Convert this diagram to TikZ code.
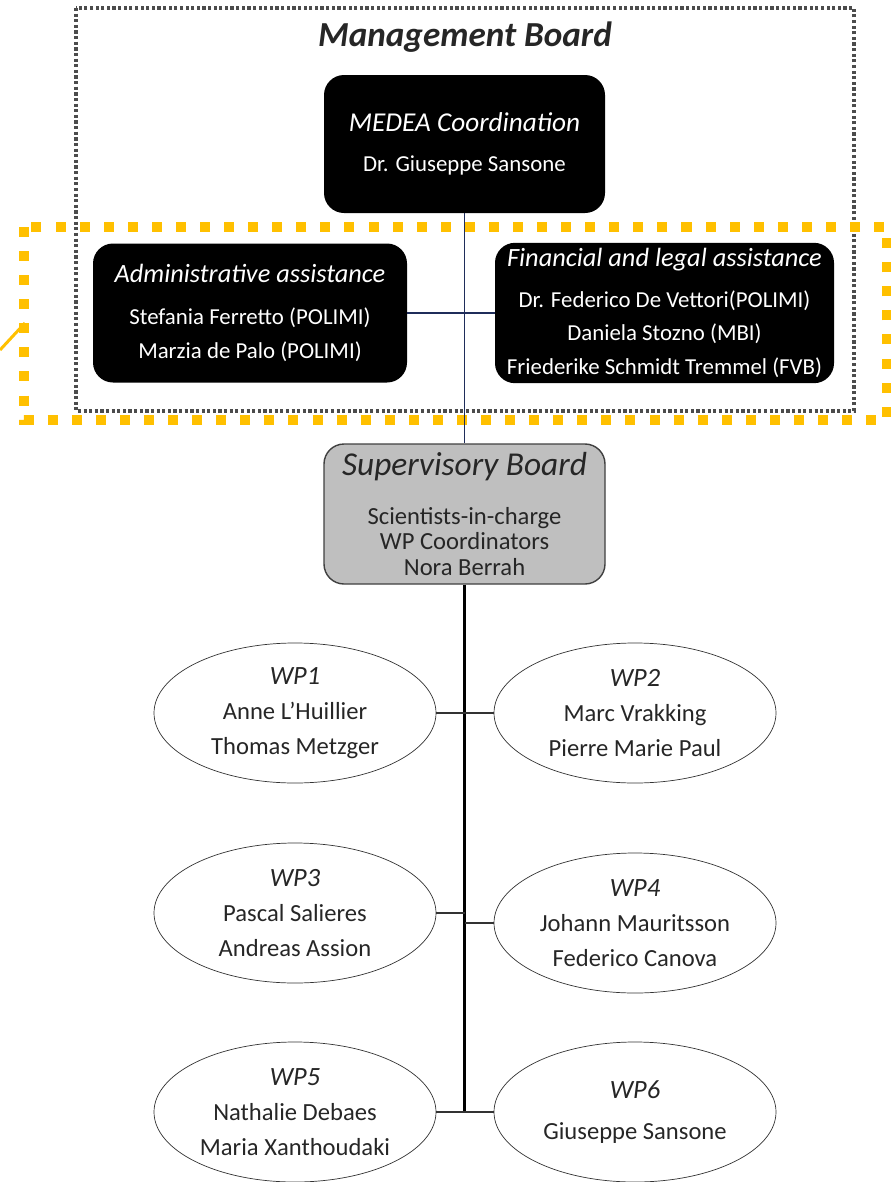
\documentclass[tikz,border=0pt]{standalone}
\usepackage{fontspec}
\setmainfont{Carlito}
\usetikzlibrary{shapes.geometric}

\definecolor{boardyellow}{HTML}{FFC000}
\definecolor{boardgray}{HTML}{BFBFBF}
\definecolor{linknavy}{HTML}{1F2D5A}

\begin{document}
\begin{tikzpicture}[
    darkbox/.style={rectangle, rounded corners=0.4cm, fill=black, text=white, align=center, font=\fontsize{13}{19}\selectfont},
    superbox/.style={rectangle, rounded corners=0.4cm, fill=boardgray, draw=black!75, thick, align=center, text=black!85, font=\fontsize{14}{14.5}\selectfont},
    wpnode/.style={ellipse, draw=black!80, minimum width=5.64cm, minimum height=2.8cm, inner sep=0pt, align=center, text=black!85, font=\fontsize{14}{20}\selectfont},
    navyline/.style={draw=linknavy, line width=0.8pt},
    spineline/.style={draw=black, line width=1.5pt},
    branch/.style={draw=black!80, line width=0.8pt}
]
\useasboundingbox (0,0) rectangle (17.82,-23.64);

% Frames
\draw[black!70, line width=1.8pt, dash pattern=on 1.8pt off 1.4pt] (1.52,-0.16) rectangle (17.08,-8.22);
\draw[boardyellow, line width=5.7pt, dash pattern=on 5.7pt off 8pt] (0.48,-4.54) rectangle (17.74,-8.4);
\coordinate (stubout) at (0,-7.0);
\coordinate (stubin) at (0.5,-6.46);
\draw[boardyellow, line width=1.7pt] (stubout) -- (stubin);

% Management board
\node[font=\fontsize{20}{24}\selectfont\bfseries\itshape, text=black!85] (mgmt) at (9.3,-0.74) {Management Board};
\node[darkbox, minimum width=5.62cm, minimum height=2.76cm] (medea) at (9.29,-2.88) {{\fontsize{15.5}{19}\selectfont\itshape MEDEA Coordination}\\[4pt] Dr. Giuseppe Sansone};
\node[darkbox, minimum width=6.28cm, minimum height=2.78cm] (admin) at (5.0,-6.26) {{\fontsize{15}{19}\selectfont\itshape Administrative assistance}\\[5pt] Stefania Ferretto (POLIMI)\\ Marzia de Palo (POLIMI)};
\node[darkbox, minimum width=6.78cm, minimum height=2.8cm] (finance) at (13.29,-6.26) {{\fontsize{15}{19}\selectfont\itshape Financial and legal assistance}\\[4pt] Dr. Federico De Vettori(POLIMI)\\ Daniela Stozno (MBI)\\ Friederike Schmidt Tremmel (FVB)};

% Supervisory board
\node[superbox, minimum width=5.62cm, minimum height=2.8cm] (supervisory) at (9.29,-10.28) {{\fontsize{19}{19}\selectfont\itshape Supervisory Board}\\[13pt] Scientists-in-charge\\ WP Coordinators\\ Nora Berrah};

% Work packages
\node[wpnode] (wp1) at (5.9,-14.26) {{\fontsize{15}{20}\selectfont\itshape WP1}\\ Anne L’Huillier\\ Thomas Metzger};
\node[wpnode] (wp2) at (12.7,-14.26) {{\fontsize{15}{20}\selectfont\itshape WP2}\\ Marc Vrakking\\ Pierre Marie Paul};
\node[wpnode] (wp3) at (5.9,-18.26) {{\fontsize{15}{20}\selectfont\itshape WP3}\\ Pascal Salieres\\ Andreas Assion};
\node[wpnode] (wp4) at (12.7,-18.46) {{\fontsize{15}{20}\selectfont\itshape WP4}\\ Johann Mauritsson\\ Federico Canova};
\node[wpnode] (wp5) at (5.9,-22.24) {{\fontsize{15}{20}\selectfont\itshape WP5}\\ Nathalie Debaes\\ Maria Xanthoudaki};
\node[wpnode] (wp6) at (12.7,-22.24) {{\fontsize{15}{20}\selectfont\itshape WP6}\\[3pt] Giuseppe Sansone};

% Connections
\coordinate (spineend) at (9.29,-22.24);
\draw[navyline] (medea.south) -- (supervisory.north);
\draw[navyline] (admin.east) -- (finance.west);
\draw[spineline] (supervisory.south) -- (spineend);
\draw[branch] (wp1) -- (wp1 -| spineend);
\draw[branch] (wp2) -- (wp2 -| spineend);
\draw[branch] (wp3) -- (wp3 -| spineend);
\draw[branch] (wp4) -- (wp4 -| spineend);
\draw[branch] (wp5) -- (wp5 -| spineend);
\draw[branch] (wp6) -- (wp6 -| spineend);

\end{tikzpicture}
\end{document}
